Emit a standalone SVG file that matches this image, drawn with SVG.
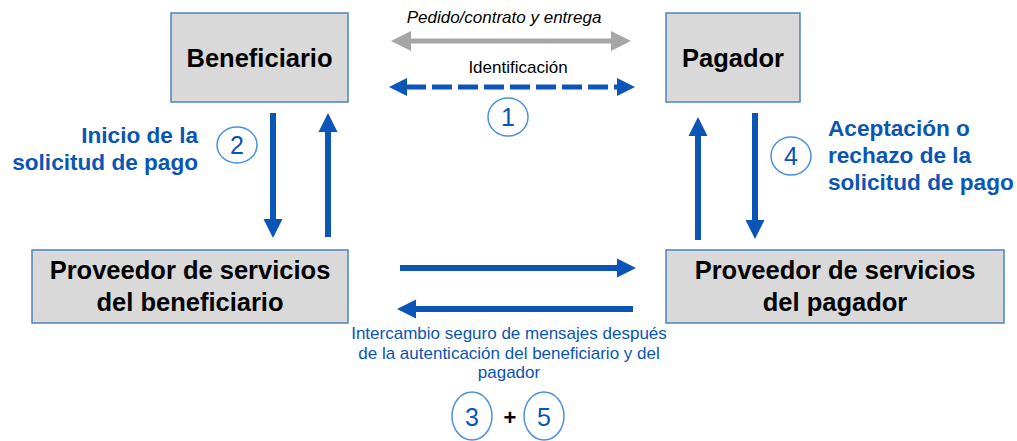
<svg xmlns="http://www.w3.org/2000/svg" width="1017" height="441" viewBox="0 0 1017 441">
<style>
.box{fill:#d9d9d9;stroke:#4f81bd;stroke-width:1.5}
.bt{font-family:"Liberation Sans",Arial,sans-serif;font-weight:bold;font-size:25.5px;fill:#000;text-anchor:middle}
.lb{font-family:"Liberation Sans",Arial,sans-serif;font-weight:bold;font-size:22.6px;fill:#0a55b5}
.sm{font-family:"Liberation Sans",Arial,sans-serif;font-size:17px;fill:#000;text-anchor:middle}
.bl{font-family:"Liberation Sans",Arial,sans-serif;font-size:17px;fill:#0a55b5;text-anchor:middle}
.num{font-family:"Liberation Sans",Arial,sans-serif;font-size:25px;fill:#0a55b5;text-anchor:middle}
.circ{fill:#fff;stroke:#4a90e2;stroke-width:1.5}
.ar{stroke:#0a55b5;stroke-width:6;fill:none}
</style>
<defs>
<marker id="hb" markerWidth="3.2" markerHeight="3.2" refX="0.2" refY="1.6" orient="auto" markerUnits="strokeWidth"><path d="M0,0 L3.2,1.6 L0,3.2 z" fill="#0a55b5"/></marker>
<marker id="hg" markerWidth="4" markerHeight="4" refX="0.2" refY="2" orient="auto-start-reverse" markerUnits="strokeWidth"><path d="M0,0 L4,2 L0,4 z" fill="#a6a6a6"/></marker>
<marker id="hd" markerWidth="3.6" markerHeight="3.6" refX="0.2" refY="1.8" orient="auto-start-reverse" markerUnits="strokeWidth"><path d="M0,0 L3.6,1.8 L0,3.6 z" fill="#0a55b5"/></marker>
</defs>
<g id="beneficiario"><rect class="box" x="171" y="13" width="177" height="89"/><text class="bt" x="259.5" y="67">Beneficiario</text></g>
<g id="pagador"><rect class="box" x="666" y="13" width="134" height="89"/><text class="bt" x="733" y="67">Pagador</text></g>
<g id="psp-beneficiario"><rect class="box" x="32" y="250" width="316" height="73"/><text class="bt" x="190" y="279">Proveedor de servicios</text><text class="bt" x="190" y="311">del beneficiario</text></g>
<g id="psp-pagador"><rect class="box" x="666" y="250" width="338" height="73"/><text class="bt" x="835" y="279">Proveedor de servicios</text><text class="bt" x="835" y="311">del pagador</text></g>
<g id="connectors">
<line x1="410" y1="41" x2="612" y2="41" stroke="#a6a6a6" stroke-width="5" marker-start="url(#hg)" marker-end="url(#hg)"/>
<line x1="406" y1="87" x2="618" y2="87" stroke="#0a55b5" stroke-width="5" stroke-dasharray="20,6" marker-start="url(#hd)" marker-end="url(#hd)"/>
<line class="ar" x1="273" y1="113" x2="273" y2="220" marker-end="url(#hb)"/>
<line class="ar" x1="328" y1="237" x2="328" y2="131" marker-end="url(#hb)"/>
<line class="ar" x1="698" y1="240" x2="698" y2="135" marker-end="url(#hb)"/>
<line class="ar" x1="755" y1="113" x2="755" y2="221" marker-end="url(#hb)"/>
<line class="ar" x1="400" y1="268" x2="618" y2="268" marker-end="url(#hb)"/>
<line class="ar" x1="633" y1="309" x2="415" y2="309" marker-end="url(#hb)"/>
</g>
<g id="labels">
<text class="sm" x="504" y="23" font-style="italic">Pedido/contrato y entrega</text>
<text class="sm" x="518" y="73">Identificación</text>
<text class="lb" x="198" y="143" text-anchor="end">Inicio de la</text>
<text class="lb" x="198" y="170" text-anchor="end">solicitud de pago</text>
<text class="lb" x="828" y="136">Aceptación o</text>
<text class="lb" x="828" y="163">rechazo de la</text>
<text class="lb" x="828" y="190">solicitud de pago</text>
<text class="bl" x="509" y="339">Intercambio seguro de mensajes después</text>
<text class="bl" x="509" y="359">de la autenticación del beneficiario y del</text>
<text class="bl" x="509" y="378">pagador</text>
<text x="510" y="425" font-family="Liberation Sans,Arial,sans-serif" font-size="22" font-weight="bold" text-anchor="middle" fill="#000">+</text>
</g>
<g id="step1"><ellipse class="circ" cx="508" cy="117" rx="20" ry="19"/><text class="num" x="508" y="126">1</text></g>
<g id="step2"><ellipse class="circ" cx="237" cy="145" rx="20" ry="18"/><text class="num" x="237" y="154">2</text></g>
<g id="step4"><ellipse class="circ" cx="791" cy="156" rx="20" ry="19"/><text class="num" x="791" y="165">4</text></g>
<g id="step3"><ellipse class="circ" cx="472" cy="416" rx="20" ry="24"/><text class="num" x="472" y="426" font-size="28">3</text></g>
<g id="step5"><ellipse class="circ" cx="544" cy="416" rx="20" ry="24"/><text class="num" x="544" y="426" font-size="28">5</text></g>
</svg>
